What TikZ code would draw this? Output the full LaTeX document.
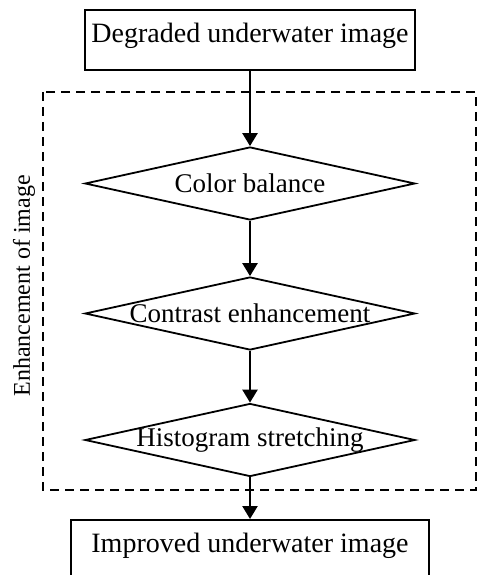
\documentclass[tikz,border=0pt]{standalone}
\usepackage{fontspec}
\setmainfont{Liberation Serif}
\usepackage{tikz}
\usetikzlibrary{shapes.geometric,arrows.meta}
\newcommand{\flattext}[1]{\makebox[0pt]{#1}}
\tikzset{
  endbox/.style={draw,line width=2pt,minimum width=330pt,minimum height=60pt,inner sep=0pt,font=\fontsize{28}{31}\selectfont},
  stepbox/.style={draw,diamond,line width=1.8pt,minimum width=330pt,minimum height=73pt,inner sep=0pt,font=\fontsize{27}{30}\selectfont},
  flow/.style={line width=2.5pt,-{Triangle[width=15pt,length=13pt]}}
}
\begin{document}
\begin{tikzpicture}[x=1pt,y=-1pt]
\clip (0,0) rectangle (477,575);
\fill[white] (0,0) rectangle (477,575);
\draw[line width=2pt,dash pattern=on 9pt off 6pt] (43,92) rectangle (476,490);
\node[rotate=90,font=\fontsize{24}{27}\selectfont] (group) at (24,286) {Enhancement of image};
\node[endbox,text depth=14pt] (input) at (250,40) {Degraded underwater image};
\node[stepbox] (color) at (250,183.5) {\flattext{Color balance}};
\node[stepbox] (contrast) at (250,313.5) {\flattext{Contrast enhancement}};
\node[stepbox] (histo) at (250,440) {\flattext{Histogram stretching}};
\node[endbox,minimum width=358pt,minimum height=64pt,text depth=18pt] (output) at (250,552) {Improved underwater image};
\draw[flow] (input) -- (color);
\draw[flow] (color) -- (contrast);
\draw[flow] (contrast) -- (histo);
\draw[flow] (histo) -- (output);
\end{tikzpicture}
\end{document}
